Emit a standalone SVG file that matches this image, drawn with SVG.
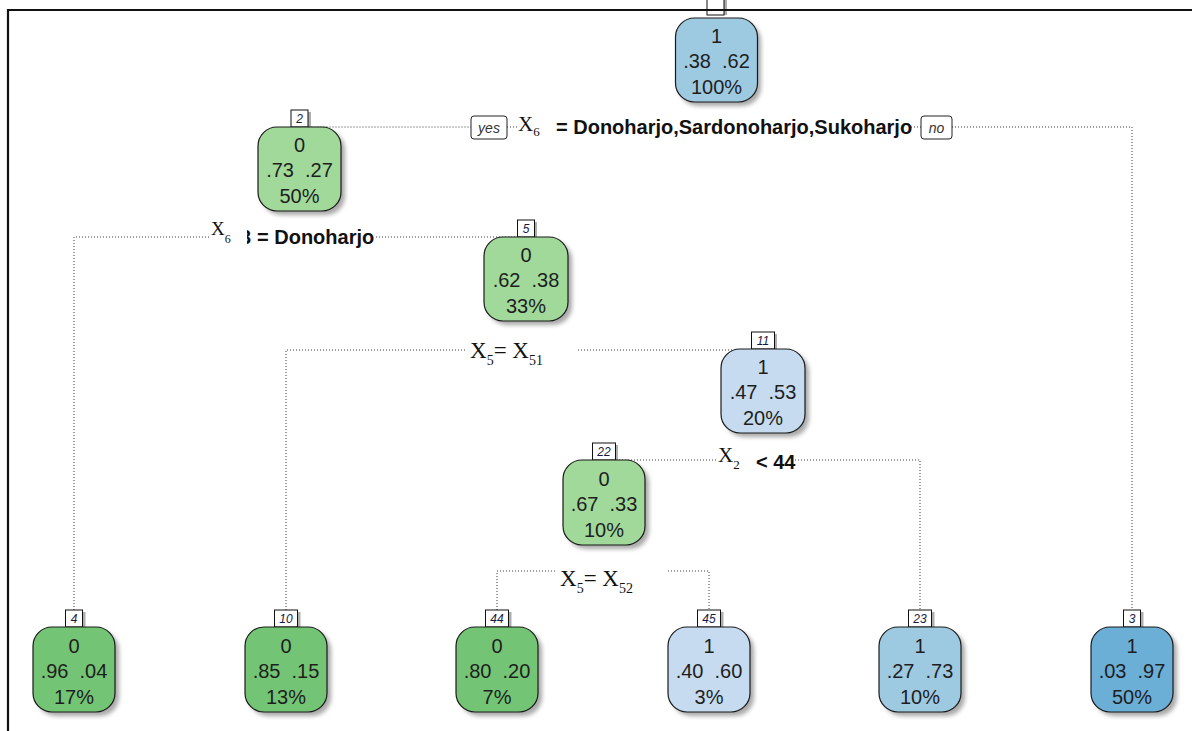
<svg xmlns="http://www.w3.org/2000/svg" width="1192" height="731" viewBox="0 0 1192 731" xml:space="preserve">
  <defs>
    <filter id="soft" x="-20%" y="-20%" width="140%" height="140%">
      <feGaussianBlur stdDeviation="2"/>
    </filter>
    <clipPath id="clipThree">
      <rect x="247" y="220" width="20" height="30"/>
    </clipPath>
  </defs>
  <style>
    .sh { fill:#8c8c8c; opacity:0.75; filter:url(#soft); }
    .box { stroke:#1a1a1a; stroke-width:1.2; }
    .t { font-family:"Liberation Sans", Arial, sans-serif; font-size:20px; fill:#1e1e1e; text-anchor:middle; white-space:pre; }
    .nb { fill:#ffffff; stroke:#111111; stroke-width:1; }
    .nbs { fill:#9a9a9a; opacity:0.8; }
    .nt { font-family:"Liberation Sans", Arial, sans-serif; font-style:italic; font-size:12px; fill:#1a1a40; text-anchor:middle; }
    .ln { fill:none; stroke:#3a3a3a; stroke-width:1; stroke-dasharray:1 2; }
    .lb { font-family:"Liberation Sans", Arial, sans-serif; font-weight:bold; font-size:20px; fill:#111111; }
    .sr { font-family:"Liberation Serif", "Times New Roman", serif; fill:#111111; }
    .yn { fill:#ffffff; stroke:#222222; stroke-width:1; }
    .ynt { font-family:"Liberation Sans", Arial, sans-serif; font-style:italic; font-size:14px; fill:#333333; text-anchor:middle; }
    .frame { fill:none; stroke:#111111; stroke-width:2.2; }
  </style>

  <rect x="0" y="0" width="1192" height="731" fill="#ffffff"/>

  <!-- branch lines -->
  <g id="connectors">
    <path class="ln" d="M299.5,127 H471"/>
    <path class="ln" d="M507,127 H517"/>
    <path class="ln" d="M911,127 H921"/>
    <path class="ln" d="M952,127 H1132 V610"/>
    <path class="ln" d="M74,610 V237 H209"/>
    <path class="ln" d="M376,237 H526"/>
    <path class="ln" d="M286,610 V350 H467"/>
    <path class="ln" d="M578,350 H763"/>
    <path class="ln" d="M604,460 H716"/>
    <path class="ln" d="M795,460 H920 V610"/>
    <path class="ln" d="M497,610 V571 H557"/>
    <path class="ln" d="M668,571 H709 V610"/>
  </g>

  <!-- split labels -->
  <g id="split-1">
    <rect class="yn" x="471" y="116" width="36" height="23" rx="3"/>
    <text class="ynt" x="489" y="133">yes</text>
    <text class="sr" x="518" y="131" font-size="21">X<tspan font-size="13" dy="5">6</tspan></text>
    <text class="lb" x="556" y="134">= Donoharjo,Sardonoharjo,Sukoharjo</text>
    <rect class="yn" x="921" y="116" width="31" height="23" rx="3"/>
    <text class="ynt" x="936.5" y="133">no</text>
  </g>
  <g id="split-2">
    <text class="sr" x="211" y="235" font-size="19">X<tspan font-size="12" dy="8">6</tspan></text>
    <text class="lb" x="240" y="244" clip-path="url(#clipThree)">3</text>
    <text class="lb" x="257" y="244">= Donoharjo</text>
  </g>
  <g id="split-5">
    <text class="sr" x="470" y="358" font-size="23">X<tspan font-size="14" dy="7">5</tspan><tspan dy="-7">= X</tspan><tspan font-size="14" dy="7">51</tspan></text>
  </g>
  <g id="split-11">
    <text class="sr" x="718" y="462" font-size="21">X<tspan font-size="13" dy="7">2</tspan></text>
    <text class="lb" x="756" y="469">&lt; 44</text>
  </g>
  <g id="split-22">
    <text class="sr" x="560" y="586" font-size="23">X<tspan font-size="14" dy="7">5</tspan><tspan dy="-7">= X</tspan><tspan font-size="14" dy="7">52</tspan></text>
  </g>

  <!-- nodes: shadow, box, number tag, class / probabilities / share -->
  <g id="node-1">
    <rect class="nbs" x="710" y="-3" width="17" height="18"/>
    <rect class="nb" x="707" y="-4" width="17" height="19"/>
    <rect class="sh" x="679" y="22" width="82" height="84" rx="19"/>
    <rect class="box" x="675.5" y="18" width="82" height="84" rx="19" fill="#9ecae1"/>
    <text class="t" x="716.5" y="43">1</text>
    <text class="t" x="716.5" y="68">.38  .62</text>
    <text class="t" x="716.5" y="94">100%</text>
  </g>

  <g id="node-2">
    <rect class="nbs" x="294" y="112" width="17" height="15"/>
    <rect class="nb" x="291" y="110" width="17" height="17"/>
    <text class="nt" x="299.5" y="123">2</text>
    <rect class="sh" x="262" y="131" width="83" height="84" rx="19"/>
    <rect class="box" x="258" y="127" width="83" height="84" rx="19" fill="#a1d99b"/>
    <text class="t" x="299.5" y="152">0</text>
    <text class="t" x="299.5" y="177">.73  .27</text>
    <text class="t" x="299.5" y="203">50%</text>
  </g>

  <g id="node-5">
    <rect class="nbs" x="520" y="222" width="17" height="15"/>
    <rect class="nb" x="517.5" y="220" width="17" height="17"/>
    <text class="nt" x="526" y="233">5</text>
    <rect class="sh" x="488" y="241" width="84" height="84" rx="19"/>
    <rect class="box" x="484" y="237" width="84" height="84" rx="19" fill="#a1d99b"/>
    <text class="t" x="526" y="262">0</text>
    <text class="t" x="526" y="287">.62  .38</text>
    <text class="t" x="526" y="313">33%</text>
  </g>

  <g id="node-11">
    <rect class="nbs" x="754" y="334" width="23" height="15"/>
    <rect class="nb" x="751.5" y="332" width="23" height="17"/>
    <text class="nt" x="763" y="345">11</text>
    <rect class="sh" x="725" y="353" width="84" height="84" rx="19"/>
    <rect class="box" x="721" y="349" width="84" height="84" rx="19" fill="#c6dbef"/>
    <text class="t" x="763" y="374">1</text>
    <text class="t" x="763" y="399">.47  .53</text>
    <text class="t" x="763" y="425">20%</text>
  </g>

  <g id="node-22">
    <rect class="nbs" x="595" y="445" width="23" height="15"/>
    <rect class="nb" x="592.5" y="443" width="23" height="17"/>
    <text class="nt" x="604" y="456">22</text>
    <rect class="sh" x="567" y="464" width="82" height="85" rx="19"/>
    <rect class="box" x="563" y="460" width="82" height="85" rx="19" fill="#a1d99b"/>
    <text class="t" x="604" y="486">0</text>
    <text class="t" x="604" y="511">.67  .33</text>
    <text class="t" x="604" y="537">10%</text>
  </g>

  <g id="node-4">
    <rect class="nbs" x="68.5" y="612" width="17" height="15"/>
    <rect class="nb" x="65.5" y="610" width="17" height="17"/>
    <text class="nt" x="74" y="623">4</text>
    <rect class="sh" x="37" y="631" width="82" height="85" rx="19"/>
    <rect class="box" x="33" y="627" width="82" height="85" rx="19" fill="#74c476"/>
    <text class="t" x="74" y="653">0</text>
    <text class="t" x="74" y="678">.96  .04</text>
    <text class="t" x="74" y="704">17%</text>
  </g>

  <g id="node-10">
    <rect class="nbs" x="277.5" y="612" width="23" height="15"/>
    <rect class="nb" x="274.5" y="610" width="23" height="17"/>
    <text class="nt" x="286" y="623">10</text>
    <rect class="sh" x="249" y="631" width="82" height="85" rx="19"/>
    <rect class="box" x="245" y="627" width="82" height="85" rx="19" fill="#74c476"/>
    <text class="t" x="286" y="653">0</text>
    <text class="t" x="286" y="678">.85  .15</text>
    <text class="t" x="286" y="704">13%</text>
  </g>

  <g id="node-44">
    <rect class="nbs" x="488.5" y="612" width="23" height="15"/>
    <rect class="nb" x="485.5" y="610" width="23" height="17"/>
    <text class="nt" x="497" y="623">44</text>
    <rect class="sh" x="460" y="631" width="82" height="85" rx="19"/>
    <rect class="box" x="456" y="627" width="82" height="85" rx="19" fill="#74c476"/>
    <text class="t" x="497" y="653">0</text>
    <text class="t" x="497" y="678">.80  .20</text>
    <text class="t" x="497" y="704">7%</text>
  </g>

  <g id="node-45">
    <rect class="nbs" x="700.5" y="612" width="23" height="15"/>
    <rect class="nb" x="697.5" y="610" width="23" height="17"/>
    <text class="nt" x="709" y="623">45</text>
    <rect class="sh" x="672" y="631" width="82" height="85" rx="19"/>
    <rect class="box" x="668" y="627" width="82" height="85" rx="19" fill="#c6dbef"/>
    <text class="t" x="709" y="653">1</text>
    <text class="t" x="709" y="678">.40  .60</text>
    <text class="t" x="709" y="704">3%</text>
  </g>

  <g id="node-23">
    <rect class="nbs" x="911.5" y="612" width="23" height="15"/>
    <rect class="nb" x="908.5" y="610" width="23" height="17"/>
    <text class="nt" x="920" y="623">23</text>
    <rect class="sh" x="883" y="631" width="82" height="85" rx="19"/>
    <rect class="box" x="879" y="627" width="82" height="85" rx="19" fill="#9ecae1"/>
    <text class="t" x="920" y="653">1</text>
    <text class="t" x="920" y="678">.27  .73</text>
    <text class="t" x="920" y="704">10%</text>
  </g>

  <g id="node-3">
    <rect class="nbs" x="1126.5" y="612" width="17" height="15"/>
    <rect class="nb" x="1123.5" y="610" width="17" height="17"/>
    <text class="nt" x="1132" y="623">3</text>
    <rect class="sh" x="1095" y="631" width="82" height="85" rx="19"/>
    <rect class="box" x="1091" y="627" width="82" height="85" rx="19" fill="#6baed6"/>
    <text class="t" x="1132" y="653">1</text>
    <text class="t" x="1132" y="678">.03  .97</text>
    <text class="t" x="1132" y="704">50%</text>
  </g>

  <!-- plot frame: top and left edges -->
  <path class="frame" d="M8,731 V10 H1192"/>
</svg>
